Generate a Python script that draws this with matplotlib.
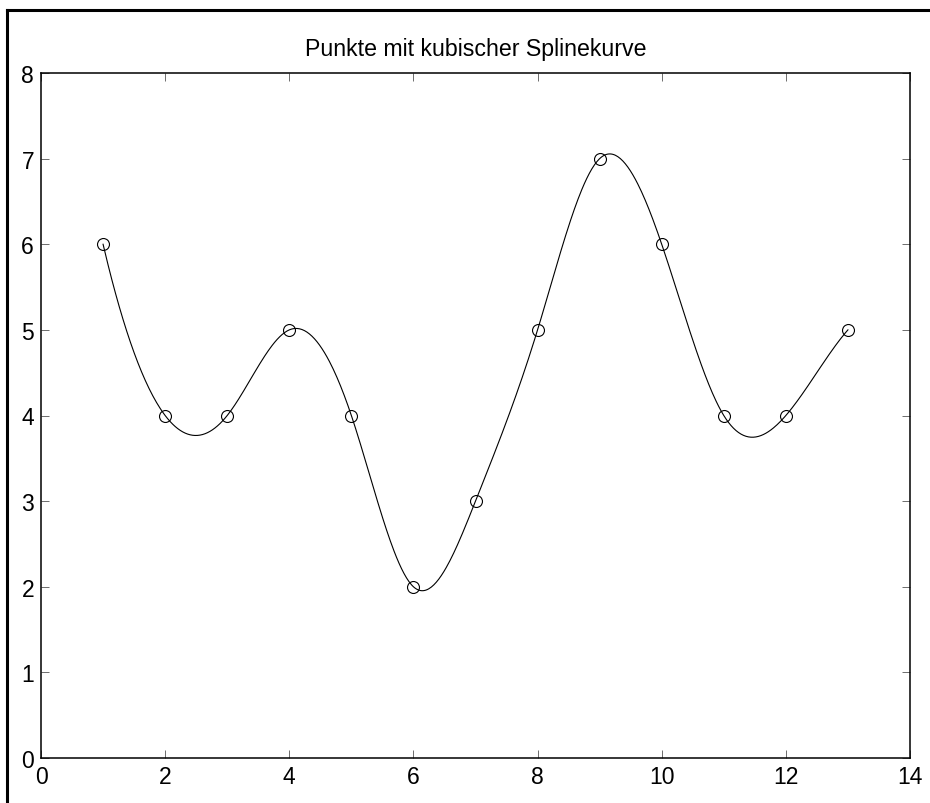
import numpy as np
import matplotlib
matplotlib.use("Agg")
import matplotlib.pyplot as plt
from matplotlib.lines import Line2D

# Data points
x_pts = [1, 2, 3, 4, 5, 6, 7, 8, 9, 10, 11, 12, 13]
y_pts = [6, 4, 4, 5, 4, 2, 3, 5, 7, 6, 4, 4, 5]
x_ticks = [0, 2, 4, 6, 8, 10, 12, 14]
y_ticks = [0, 1, 2, 3, 4, 5, 6, 7, 8]
title = "Punkte mit kubischer Splinekurve"


def not_a_knot_spline(x, y, xq):
    """Cubic spline with not-a-knot end conditions (second-derivative form)."""
    x = np.asarray(x, float)
    y = np.asarray(y, float)
    n = len(x)
    h = np.diff(x)
    A = np.zeros((n, n))
    b = np.zeros(n)
    for i in range(1, n - 1):
        A[i, i - 1] = h[i - 1]
        A[i, i] = 2 * (h[i - 1] + h[i])
        A[i, i + 1] = h[i]
        b[i] = 6 * ((y[i + 1] - y[i]) / h[i] - (y[i] - y[i - 1]) / h[i - 1])
    # continuity of third derivative at x[1] and x[n-2]
    A[0, 0] = -h[1]
    A[0, 1] = h[0] + h[1]
    A[0, 2] = -h[0]
    A[-1, -3] = -h[-1]
    A[-1, -2] = h[-2] + h[-1]
    A[-1, -1] = -h[-2]
    M = np.linalg.solve(A, b)
    idx = np.clip(np.searchsorted(x, xq) - 1, 0, n - 2)
    x0, x1 = x[idx], x[idx + 1]
    hh = x1 - x0
    return (M[idx] * (x1 - xq) ** 3 / (6 * hh)
            + M[idx + 1] * (xq - x0) ** 3 / (6 * hh)
            + (y[idx] - M[idx] * hh ** 2 / 6) * (x1 - xq) / hh
            + (y[idx + 1] - M[idx + 1] * hh ** 2 / 6) * (xq - x0) / hh)


plt.rcParams['font.family'] = ['Liberation Sans', 'DejaVu Sans']

W, H = 930, 804
fig = plt.figure(figsize=(W / 100, H / 100), dpi=100)
fig.patch.set_facecolor('white')

# outer frame (top and left edges)
fig.add_artist(Line2D([7 / W, 7 / W], [0, 1 - 11 / H], transform=fig.transFigure,
                      color='black', lw=2.2, solid_capstyle='projecting'))
fig.add_artist(Line2D([7 / W, 1], [1 - 11 / H, 1 - 11 / H], transform=fig.transFigure,
                      color='black', lw=2.2, solid_capstyle='projecting'))

ax = fig.add_axes([41 / W, 45 / H, 869 / W, 685 / H])

xs = np.linspace(x_pts[0], x_pts[-1], 600)
ax.plot(xs, not_a_knot_spline(x_pts, y_pts, xs), color='black', lw=0.8)
ax.plot(x_pts, y_pts, 'o', mfc='none', mec='black', ms=8.6, mew=0.8)

ax.set_xlim(0, 14)
ax.set_ylim(0, 8)
ax.set_xticks(x_ticks)
ax.set_yticks(y_ticks)
ax.tick_params(direction='in', length=6, width=0.6, color='#555555',
               top=True, right=True, labelsize=16.5, pad=5)
for s in ax.spines.values():
    s.set_linewidth(1.1)
ax.set_title(title, fontsize=16.7, pad=13)

fig.savefig("out.png", dpi=100)
